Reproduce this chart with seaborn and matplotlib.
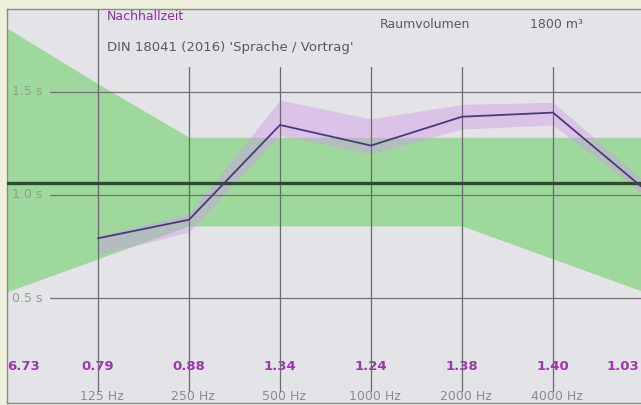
import numpy as np
import pandas as pd
import matplotlib
matplotlib.use("Agg")
import matplotlib.pyplot as plt
import seaborn as sns

# Octave bands (63 Hz .. 4000 Hz labelled, 8000 Hz just past the right edge)
bands = ["63 Hz", "125 Hz", "250 Hz", "500 Hz", "1000 Hz", "2000 Hz", "4000 Hz"]
band_values = [6.73, 0.79, 0.88, 1.34, 1.24, 1.38, 1.40, 1.03]
# measured reverberation time (63 Hz is off scale, not drawn)
t_meas = [None, 0.79, 0.88, 1.34, 1.24, 1.38, 1.40, 1.03]
t_upper = [None, 0.80, 0.91, 1.46, 1.37, 1.44, 1.45, 1.07]
t_lower = [None, 0.71, 0.82, 1.29, 1.20, 1.32, 1.34, 1.00]
# DIN 18041 tolerance range and target value
tol_upper = [1.81, 1.54, 1.28, 1.28, 1.28, 1.28, 1.28, 1.28]
tol_lower = [0.53, 0.69, 0.85, 0.85, 0.85, 0.85, 0.69, 0.53]
t_soll = 1.06
y_ticks = [0.5, 1.0, 1.5]

sns.set_theme(style="white")
plt.rcParams['font.family'] = ['DejaVu Sans']

W, H = 641, 405
fig = plt.figure(figsize=(W / 100, H / 100), dpi=100)
fig.patch.set_facecolor("#eef0dc")

# axes from px 7..641 horizontally and 9..403 vertically
ax = fig.add_axes([7 / W, 2 / H, 634 / W, 394 / H])
ax.set_facecolor("#e4e3e7")
px_per_oct = 91
px_per_s = 206
ytop = 1 + 186 / px_per_s
ybot = 1 - 208 / px_per_s
ax.set_xlim(0, 634 / px_per_oct)
ax.set_ylim(ybot, ytop)
xi = np.arange(len(tol_upper))

# tolerance band
ax.fill_between(xi, tol_lower, tol_upper, color="#9fd89c", lw=0, zorder=1)

# measurement spread
m_idx = [i for i, v in enumerate(t_meas) if v is not None]
ax.fill_between(m_idx, [t_lower[i] for i in m_idx], [t_upper[i] for i in m_idx],
                color="#cf9ee6", alpha=0.45, lw=0, zorder=2)

# grid
text_cut = ytop - 58 / px_per_s
for i in range(1, len(xi)):
    top = ytop if i == 1 else text_cut
    ax.plot([i, i], [ybot + 12 / px_per_s, top], color="#6a6a6e", lw=0.9, zorder=3)
for yv in y_ticks:
    ax.plot([43 / px_per_oct, 634 / px_per_oct], [yv, yv], color="#727276", lw=0.9, zorder=3)
    ax.text(5 / px_per_oct, yv, f"{yv:.1f} s", color="#8fa08c", fontsize=9,
            ha="left", va="center", zorder=4)

# target line
ax.axhline(t_soll, color="#2f4a30", lw=2.4, zorder=4)

# measured curve
df = pd.DataFrame({"x": m_idx, "T": [t_meas[i] for i in m_idx]})
sns.lineplot(data=df, x="x", y="T", ax=ax, color="#4a3a7c", lw=1.3, zorder=5)
ax.set_xlabel("")
ax.set_ylabel("")

# values row
yv_row = 1 - 171 / px_per_s
for i, v in enumerate(band_values):
    ha = "center"
    xpos = i
    if i == 0:
        ha, xpos = "left", 0
    elif i == len(band_values) - 1:
        ha, xpos = "right", 632 / px_per_oct
    ax.text(xpos, yv_row, f"{v:.2f}", color="#9a3aa8", fontsize=9.5,
            fontweight="bold", ha=ha, va="center", zorder=6)

# frequency labels
yf_row = 1 - 201 / px_per_s
for i, lab in enumerate(bands):
    if i == 0:
        continue
    ax.text(i + 4 / px_per_oct, yf_row, lab, color="#8c8c8c", fontsize=9,
            ha="center", va="center", zorder=6)

# header texts
ax.text(100 / px_per_oct, ytop - 8 / px_per_s, "Nachhallzeit", color="#8a2f9c",
        fontsize=9, ha="left", va="center", zorder=6)
ax.text(100 / px_per_oct, ytop - 39 / px_per_s, "DIN 18041 (2016) 'Sprache / Vortrag'",
        color="#5a5a5a", fontsize=9.5, ha="left", va="center", zorder=6)
ax.text(373 / px_per_oct, ytop - 16 / px_per_s, "Raumvolumen", color="#5a5a5a",
        fontsize=9, ha="left", va="center", zorder=6)
ax.text(523 / px_per_oct, ytop - 16 / px_per_s, "1800 m³", color="#5a5a5a",
        fontsize=9, ha="left", va="center", zorder=6)

ax.set_xticks([])
ax.set_yticks([])
for s in ax.spines.values():
    s.set_color("#8a8a8a")
    s.set_linewidth(1.0)
ax.spines["right"].set_visible(False)

fig.savefig("out.png", dpi=100)
